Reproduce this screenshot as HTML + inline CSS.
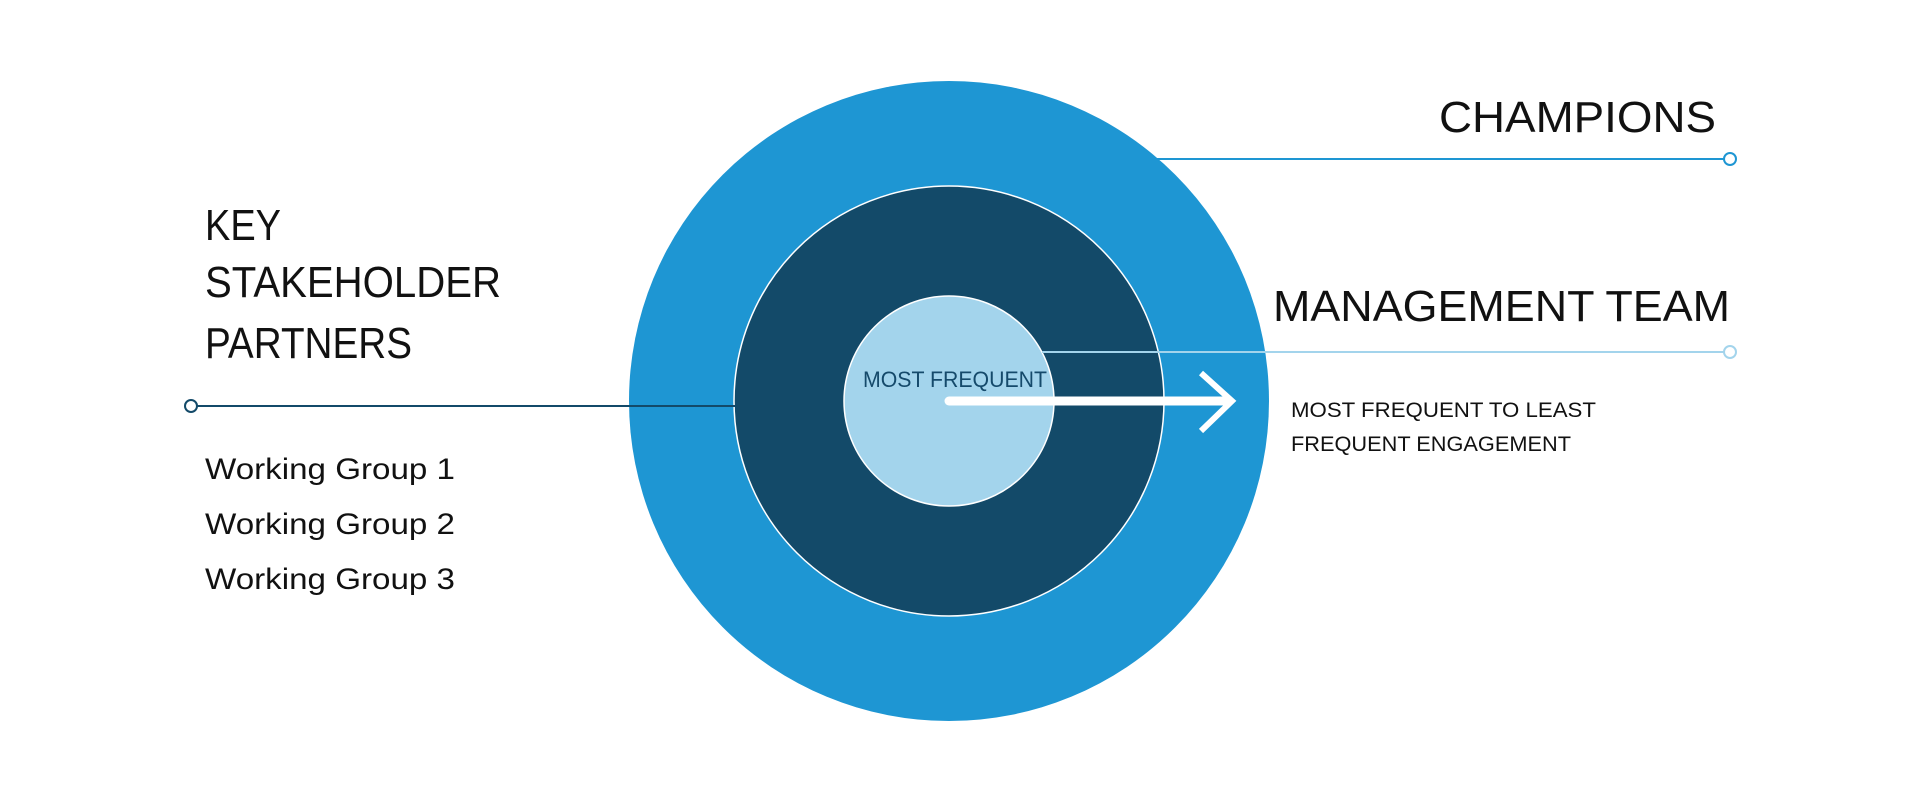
<!DOCTYPE html>
<html><head><meta charset="utf-8"><style>html,body{margin:0;padding:0;background:#fff}</style></head>
<body>
<svg width="1916" height="794" viewBox="0 0 1916 794" xmlns="http://www.w3.org/2000/svg" font-family="Liberation Sans, sans-serif">
<rect width="1916" height="794" fill="#fff"/>
<circle cx="949" cy="401" r="320" fill="#1e96d3"/>
<circle cx="949" cy="401" r="215" fill="#134a69" stroke="#fff" stroke-width="1.5"/>
<circle cx="949" cy="401" r="105" fill="#a3d4ec" stroke="#fff" stroke-width="1.5"/>
<line x1="1155" y1="159" x2="1724" y2="159" stroke="#1e96d3" stroke-width="2"/>
<circle cx="1730" cy="159" r="6" fill="#fff" stroke="#1e96d3" stroke-width="2"/>
<line x1="1042" y1="352" x2="1724" y2="352" stroke="#a3d4ec" stroke-width="2"/>
<line x1="1042" y1="352" x2="1042" y2="352"/>
<circle cx="1730" cy="352" r="6" fill="#fff" stroke="#a3d4ec" stroke-width="2"/>
<line x1="197" y1="406" x2="735" y2="406" stroke="#134a69" stroke-width="2"/>
<circle cx="191" cy="406" r="6" fill="#fff" stroke="#134a69" stroke-width="2"/>
<line x1="949" y1="401" x2="1228" y2="401" stroke="#fff" stroke-width="9" stroke-linecap="round"/>
<polyline points="1201,373 1232,401 1201,431" fill="none" stroke="#fff" stroke-width="6"/>
<g fill="#111" font-size="44">
<text x="1439" y="132" textLength="277" lengthAdjust="spacingAndGlyphs">CHAMPIONS</text>
<text x="205" y="240" textLength="76" lengthAdjust="spacingAndGlyphs">KEY</text>
<text x="205" y="297" textLength="296" lengthAdjust="spacingAndGlyphs">STAKEHOLDER</text>
<text x="205" y="358" textLength="207" lengthAdjust="spacingAndGlyphs">PARTNERS</text>
<text x="1273" y="321" textLength="457" lengthAdjust="spacingAndGlyphs">MANAGEMENT TEAM</text>
</g>
<g fill="#111" font-size="30">
<text x="205" y="479" textLength="250" lengthAdjust="spacingAndGlyphs">Working Group 1</text>
<text x="205" y="534" textLength="250" lengthAdjust="spacingAndGlyphs">Working Group 2</text>
<text x="205" y="589" textLength="250" lengthAdjust="spacingAndGlyphs">Working Group 3</text>
</g>
<text x="863" y="387" font-size="22" fill="#154a6b" textLength="184" lengthAdjust="spacingAndGlyphs">MOST FREQUENT</text>
<g fill="#111" font-size="21">
<text x="1291" y="417" textLength="305" lengthAdjust="spacingAndGlyphs">MOST FREQUENT TO LEAST</text>
<text x="1291" y="451" textLength="280" lengthAdjust="spacingAndGlyphs">FREQUENT ENGAGEMENT</text>
</g>
</svg>
</body></html>
